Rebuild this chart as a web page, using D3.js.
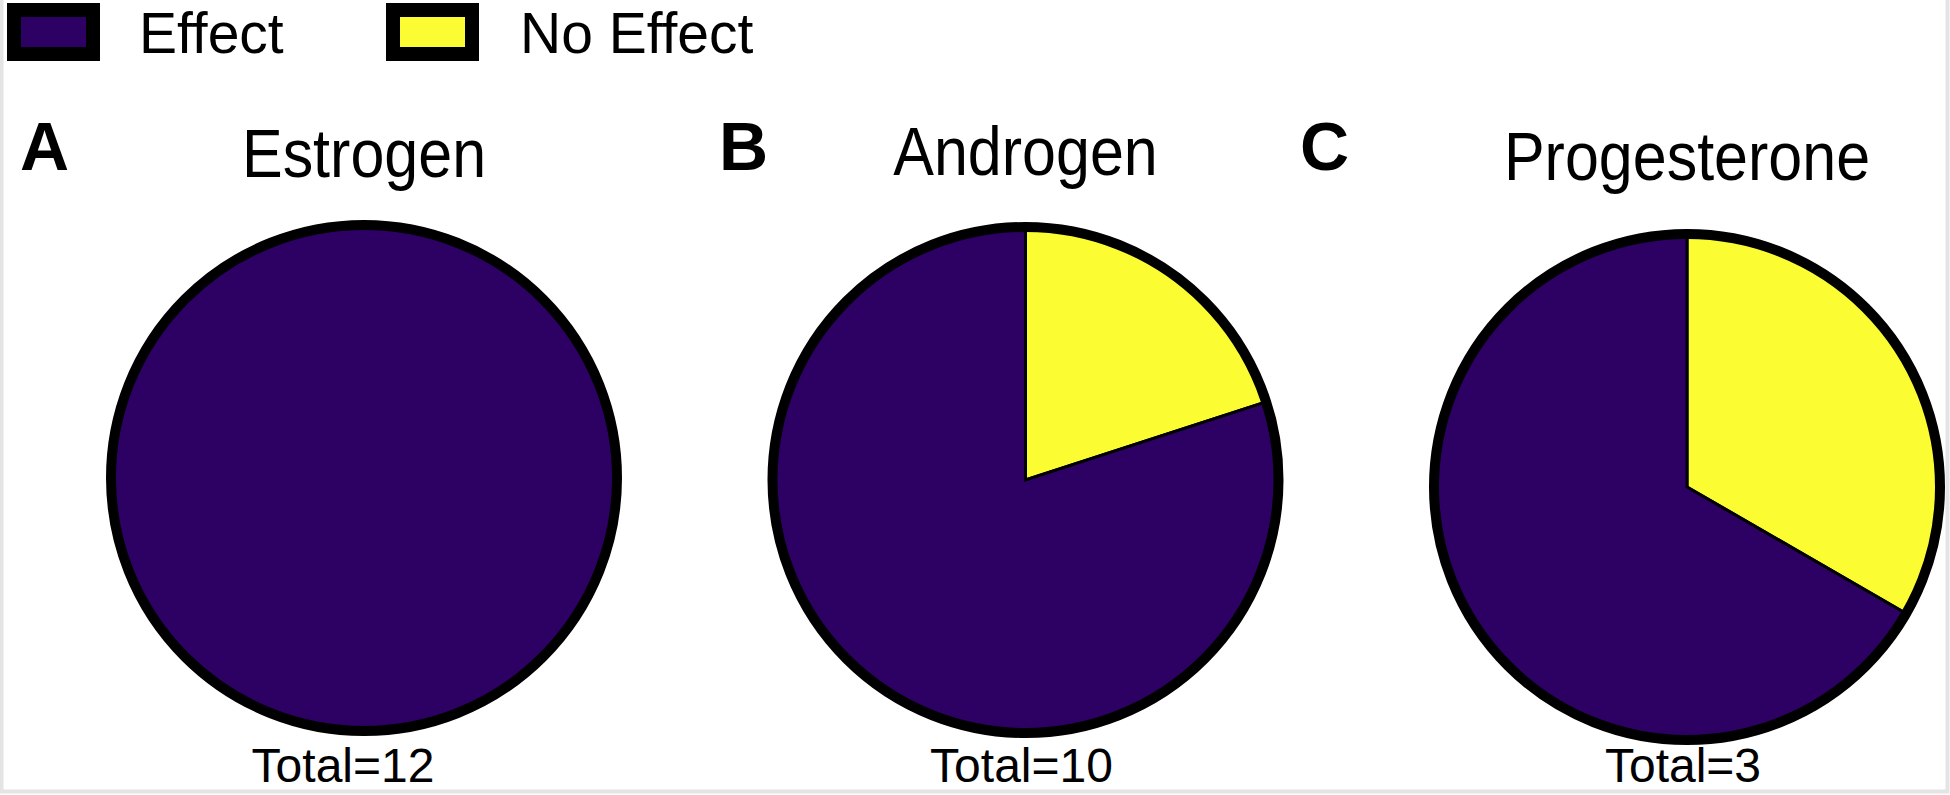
<!DOCTYPE html>
<html>
<head>
<meta charset="utf-8">
<script src="https://cdn.jsdelivr.net/npm/d3@7"></script>
<style>
  html, body { margin: 0; padding: 0; background: #fff; }
  svg { display: block; font-family: "Liberation Sans", Arial, Helvetica, sans-serif; }
</style>
</head>
<body>
<svg id="chart" width="1950" height="795"></svg>
<script>
// ---- data ----
const hormones = ["Estrogen", "Androgen", "Progesterone"];
const panelLetters = ["A", "B", "C"];
const effectCounts = [12, 8, 2];
const noEffectCounts = [0, 2, 1];
const categories = ["Effect", "No Effect"];
const categoryColors = ["#2d0064", "#fcfc33"];

// ---- layout ----
const W = 1950, H = 795;
const svg = d3.select("#chart");
const color = d3.scaleOrdinal().domain(categories).range(categoryColors);
const cx = d3.scalePoint().domain(hormones).range([364, 1687]);
const cyByPanel = [478, 480, 487];
const letterX = [20, 719, 1300];
const titleBaseline = [177, 175, 180];
const outerR = 258, ringW = 10;
const pathR = outerR - ringW / 2;

// light frame on left, right and bottom
svg.append("path")
  .attr("d", `M1.5,0 V${H - 3.5} H${W - 2.5} V0`)
  .attr("fill", "none").attr("stroke", "#e4e4e4").attr("stroke-width", 4);

// ---- legend ----
const legendX = [14, 393];
const legendTextX = [139, 520];
const lg = svg.append("g");
categories.forEach((c, i) => {
  lg.append("rect")
    .attr("x", legendX[i]).attr("y", 10).attr("width", 79).attr("height", 44)
    .attr("fill", color(c)).attr("stroke", "#000").attr("stroke-width", 14);
  lg.append("text")
    .attr("x", legendTextX[i]).attr("y", 53)
    .attr("font-size", 57).attr("fill", "#000")
    .text(c);
});

// ---- pies ----
const pie = d3.pie().sort(null).value(d => d.value);
const arc = d3.arc().innerRadius(0).outerRadius(pathR);

hormones.forEach((h, i) => {
  const x = cx(h), y = cyByPanel[i];
  // panel letter
  svg.append("text")
    .attr("x", letterX[i]).attr("y", 170)
    .attr("font-size", 68).attr("font-weight", "bold").attr("fill", "#000")
    .text(panelLetters[i]);
  // title
  svg.append("text")
    .attr("transform", `translate(${x},${titleBaseline[i]}) scale(1,1.12)`)
    .attr("text-anchor", "middle")
    .attr("font-size", 61).attr("fill", "#000")
    .text(h);

  const data = [
    { key: "No Effect", value: noEffectCounts[i] },
    { key: "Effect", value: effectCounts[i] }
  ].filter(d => d.value > 0);

  const g = svg.append("g").attr("transform", `translate(${x},${y})`);
  g.selectAll("path.slice")
    .data(pie(data))
    .join("path")
    .attr("class", "slice")
    .attr("d", arc)
    .attr("fill", d => color(d.data.key))
    .attr("stroke", "#000")
    .attr("stroke-width", 3)
    .attr("stroke-linejoin", "miter");
  g.append("circle")
    .attr("r", pathR)
    .attr("fill", "none")
    .attr("stroke", "#000")
    .attr("stroke-width", ringW);

  // total label
  const total = effectCounts[i] + noEffectCounts[i];
  svg.append("text")
    .attr("x", i === 0 ? x - 21 : x - 4).attr("y", 782)
    .attr("text-anchor", "middle")
    .attr("font-size", 48).attr("fill", "#000")
    .text("Total=" + total);
});
</script>
</body>
</html>
